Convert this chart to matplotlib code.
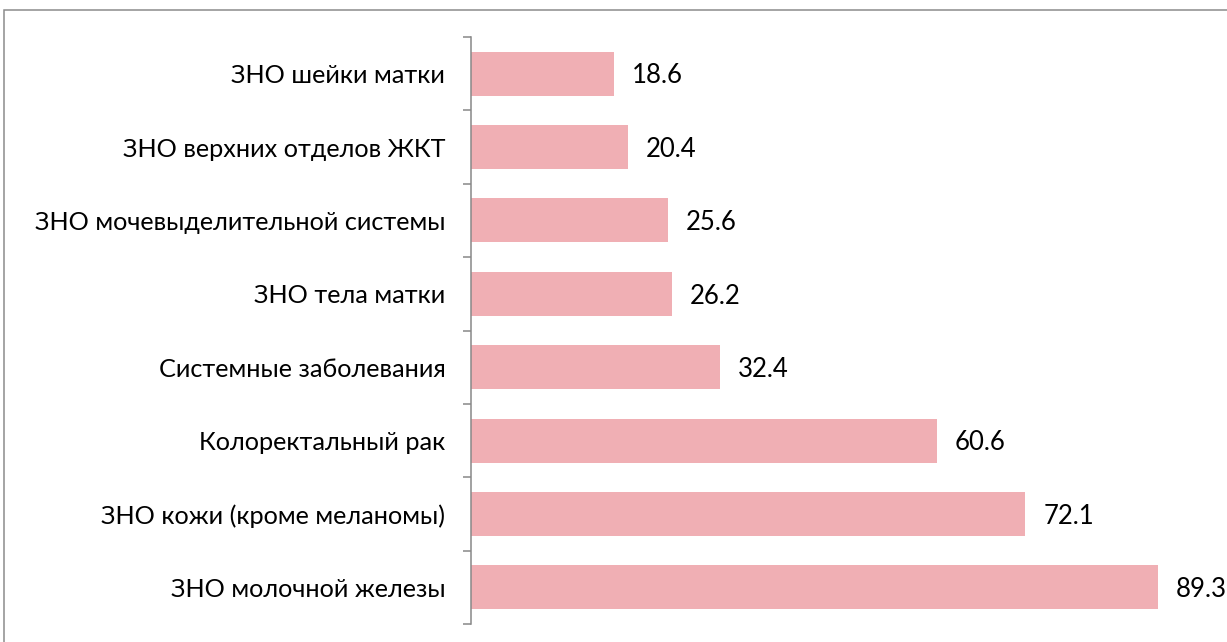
import matplotlib.pyplot as plt
import numpy as np
from matplotlib.patches import Rectangle

categories = ['ЗНО шейки матки', 'ЗНО верхних отделов ЖКТ', 'ЗНО мочевыделительной системы',
              'ЗНО тела матки', 'Системные заболевания', 'Колоректальный рак',
              'ЗНО кожи (кроме меланомы)', 'ЗНО молочной железы']
values = [18.6, 20.4, 25.6, 26.2, 32.4, 60.6, 72.1, 89.3]

plt.rcParams['font.family'] = ['Lato', 'DejaVu Sans']

W, H = 1227, 642
fig = plt.figure(figsize=(W / 100, H / 100), dpi=100)
ax = fig.add_axes([471 / W, 1 - 624 / H, (1220 - 471) / W, (624 - 37) / H])

y = np.arange(len(categories))
ax.barh(y, values, height=0.6, color='#F0AFB4', edgecolor='none')
ax.set_ylim(len(categories) - 0.5, -0.5)
ax.set_xlim(0, 749 / 7.69)

for yi, v in zip(y, values):
    ax.text(v + 2.3, yi + 0.03, f'{v:.1f}', va='center', ha='left', fontsize=18.5)

ax.set_yticks(y)
ax.set_yticklabels(categories, fontsize=18.2)
ax.tick_params(axis='y', which='major', length=0, pad=18.5)
ax.set_yticks(np.arange(len(categories) + 1) - 0.5, minor=True)
ax.tick_params(axis='y', which='minor', length=5.8, width=1.1, color='#888888', direction='out')
ax.set_xticks([])

for s in ['top', 'right', 'bottom']:
    ax.spines[s].set_visible(False)
ax.spines['left'].set_color('#888888')
ax.spines['left'].set_linewidth(1.1)

fig.patches.append(Rectangle((4 / W, -0.1), 1.2, 1 - 10 / H + 0.1, transform=fig.transFigure,
                             fill=False, edgecolor='#8c8c8c', linewidth=1.1))

fig.savefig('out.png', dpi=100)
